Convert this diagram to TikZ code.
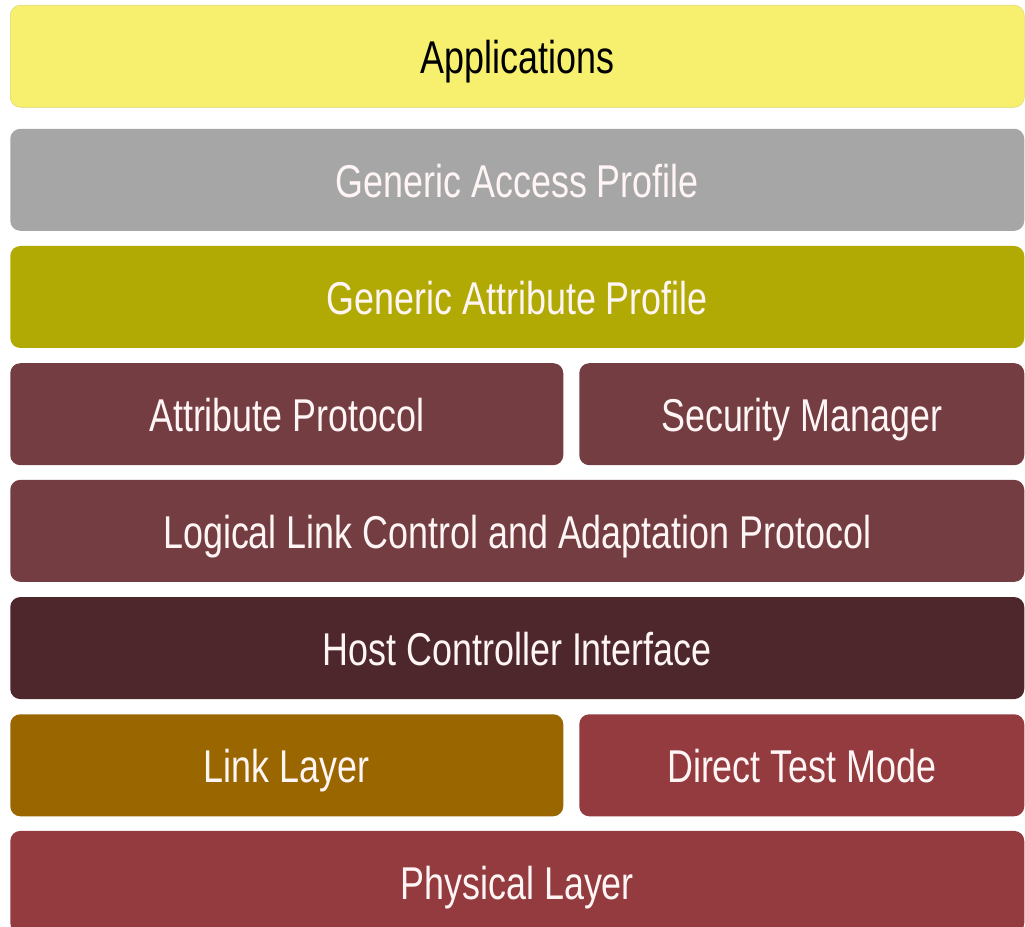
\documentclass[tikz,border=0pt]{standalone}
\usepackage{fontspec}
\newfontfamily\layerfont{Liberation Sans}[FakeStretch=0.78]
\usetikzlibrary{positioning}

\definecolor{appyellow}{HTML}{F7F06E}
\definecolor{gapgray}{HTML}{A6A6A6}
\definecolor{gattolive}{HTML}{B2AA04}
\definecolor{attmaroon}{HTML}{733D42}
\definecolor{hcidark}{HTML}{4D272C}
\definecolor{llbrown}{HTML}{996600}
\definecolor{phyred}{HTML}{933B3F}

\begin{document}
\begin{tikzpicture}
    \tikzstyle{layer} = [shape=rectangle, rounded corners=7.5pt, inner sep=0pt,
                         minimum height=76.5pt, text=white!96!red,
                         text height=26pt, text depth=0pt,
                         font=\layerfont\fontsize{34.5}{36}\selectfont]
    \tikzstyle{wide}  = [layer, minimum width=760.5pt]
    \tikzstyle{left}  = [layer, minimum width=414.75pt]
    \tikzstyle{right} = [layer, minimum width=333.75pt]
    \useasboundingbox (0,0) rectangle (768.75pt,-695.25pt);

    \node (app)  [wide, fill=appyellow, draw=appyellow!80!gray, text=black,
                  anchor=north west] at (7.5pt,-3.75pt) {Applications};
    \node (gap)  [wide, fill=gapgray]   [below=15.75pt of app]  {Generic Access Profile};
    \node (gatt) [wide, fill=gattolive] [below=11pt of gap]  {Generic Attribute Profile};
    \node (att)  [left, fill=attmaroon, anchor=north west]
                 at ([yshift=-11pt]gatt.south west) {Attribute Protocol};
    \node (sm)   [right, fill=attmaroon, anchor=north east]
                 at ([yshift=-11pt]gatt.south east) {Security Manager};
    \node (l2cap)[wide, fill=attmaroon] [below=11pt of gatt.south, yshift=-87.5pt]
                 {Logical Link Control and Adaptation Protocol};
    \node (hci)  [wide, fill=hcidark]   [below=11pt of l2cap] {Host Controller Interface};
    \node (ll)   [left, fill=llbrown, anchor=north west]
                 at ([yshift=-11pt]hci.south west) {Link Layer};
    \node (dtm)  [right, fill=phyred, anchor=north east]
                 at ([yshift=-11pt]hci.south east) {Direct Test Mode};
    \node (phy)  [wide, fill=phyred]    [below=11pt of hci.south, yshift=-87.5pt]
                 {Physical Layer};
\end{tikzpicture}
\end{document}
